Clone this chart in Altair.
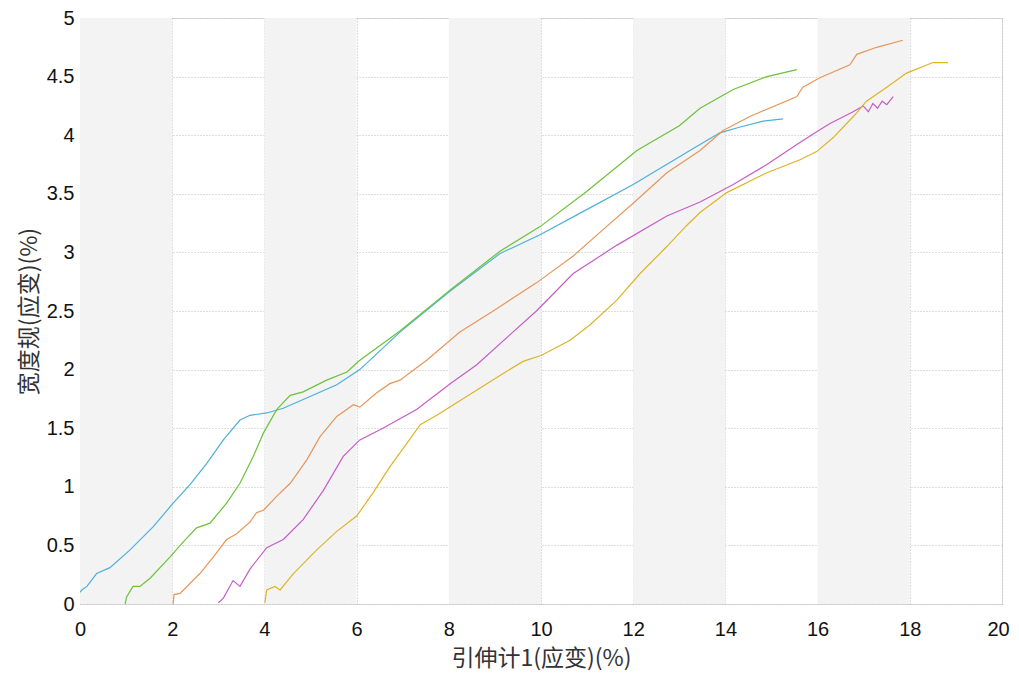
import altair as alt
import pandas as pd

# ---- data ----
blue_x = [0, 0.04, 0.15, 0.36, 0.65, 1.08, 1.59, 2.02, 2.39, 2.75, 3.11, 3.47, 3.69, 4.05, 4.41, 4.99, 5.57, 6.07,
          6.94, 8.03, 9.11, 9.98, 10.92, 12.0, 13.23, 13.45, 13.88, 14.32, 14.82, 15.25]
blue_y = [0.10, 0.12, 0.15, 0.26, 0.31, 0.46, 0.66, 0.86, 1.02, 1.20, 1.40, 1.57, 1.61, 1.63, 1.67, 1.77, 1.87, 2.0,
          2.32, 2.67, 2.99, 3.15, 3.35, 3.58, 3.87, 3.92, 4.02, 4.07, 4.12, 4.14]

green_x = [0.98, 1.01, 1.15, 1.30, 1.52, 1.95, 2.24, 2.53, 2.82, 3.18, 3.47, 3.76, 3.98, 4.27, 4.56, 4.84, 5.35,
           5.79, 6.07, 6.94, 8.03, 9.11, 9.98, 10.99, 12.08, 13.0, 13.45, 14.17, 14.9, 15.55]
green_y = [0, 0.06, 0.15, 0.15, 0.22, 0.40, 0.53, 0.65, 0.69, 0.86, 1.03, 1.26, 1.46, 1.66, 1.78, 1.81, 1.91,
           1.98, 2.08, 2.33, 2.68, 3.01, 3.22, 3.52, 3.87, 4.08, 4.23, 4.39, 4.5, 4.56]

orange_x = [2.02, 2.04, 2.17, 2.6, 2.89, 3.18, 3.40, 3.69, 3.83, 3.98, 4.27, 4.56, 4.92, 5.21, 5.57, 5.93, 6.07,
            6.43, 6.72, 6.94, 7.52, 8.24, 9.04, 9.90, 10.7, 11.42, 12.0, 12.73, 13.45, 13.95, 14.53, 15.55, 15.68,
            16.05, 16.7, 16.85, 17.28, 17.85]
orange_y = [0, 0.08, 0.09, 0.26, 0.40, 0.55, 0.60, 0.70, 0.78, 0.80, 0.92, 1.03, 1.23, 1.43, 1.60, 1.70, 1.68,
            1.80, 1.88, 1.91, 2.08, 2.32, 2.52, 2.74, 2.97, 3.22, 3.42, 3.68, 3.87, 4.04, 4.16, 4.33, 4.41,
            4.49, 4.60, 4.69, 4.75, 4.81]

magenta_x = [3.0, 3.11, 3.32, 3.47, 3.69, 4.05, 4.41, 4.84, 5.28, 5.71, 6.07, 6.57, 7.30, 8.03, 8.6, 9.9, 10.7,
             11.64, 12.73, 13.45, 14.17, 14.9, 15.55, 15.98, 16.27, 16.77, 16.99, 17.1, 17.2, 17.3, 17.4, 17.5, 17.64]
magenta_y = [0.01, 0.05, 0.20, 0.15, 0.30, 0.48, 0.55, 0.72, 0.97, 1.26, 1.40, 1.50, 1.66, 1.88, 2.04, 2.5, 2.82,
             3.06, 3.31, 3.43, 3.58, 3.75, 3.92, 4.03, 4.10, 4.20, 4.25, 4.20, 4.27, 4.23, 4.29, 4.26, 4.33]

yellow_x = [4.01, 4.05, 4.23, 4.34, 4.63, 5.13, 5.57, 6.0, 6.36, 6.72, 7.09, 7.38, 7.74, 8.3, 9.11, 9.61, 10.0,
            10.63, 11.06, 11.64, 12.15, 12.73, 13.16, 13.45, 14.03, 14.9, 15.62, 15.98, 16.34, 16.63, 16.85, 17.06,
            17.5, 17.93, 18.5, 18.83]
yellow_y = [0.01, 0.12, 0.15, 0.12, 0.26, 0.46, 0.62, 0.75, 0.95, 1.17, 1.37, 1.53, 1.61, 1.75, 1.95, 2.07, 2.12,
            2.25, 2.38, 2.59, 2.82, 3.05, 3.23, 3.34, 3.51, 3.68, 3.79, 3.86, 3.98, 4.10, 4.19, 4.29,
            4.41, 4.53, 4.62, 4.62]

series_names = ["blue", "green", "orange", "magenta", "yellow"]
series_colors = ["#4cb0d8", "#6cc23a", "#e8955a", "#c85cc8", "#dcb428"]

band_start = [0, 4, 8, 12, 16]
band_end = [2, 6, 10, 14, 18]

x_ticks = [0, 2, 4, 6, 8, 10, 12, 14, 16, 18, 20]
y_ticks = [0, 0.5, 1, 1.5, 2, 2.5, 3, 3.5, 4, 4.5, 5]

# ---- build tables ----
rows = []
for name, xs, ys in zip(series_names,
                        [blue_x, green_x, orange_x, magenta_x, yellow_x],
                        [blue_y, green_y, orange_y, magenta_y, yellow_y]):
    for i, (a, b) in enumerate(zip(xs, ys)):
        rows.append({"series": name, "x": a, "y": b, "i": i})
df = pd.DataFrame(rows)
bands = pd.DataFrame({"x": band_start, "x2": band_end})

xscale = alt.Scale(domain=[0, 20], nice=False, zero=False)
yscale = alt.Scale(domain=[0, 5], nice=False)

axis_common = dict(
    grid=True, gridColor="#bdbdbd", gridDash=[1, 2], gridWidth=1,
    ticks=False, domain=False, format="~g", labelFlush=False, labelOverlap=False,
    labelFont="Liberation Sans", labelFontSize=20, labelColor="#111111",
    titleFont="Noto Sans CJK SC", titleFontSize=23, titleColor="#333333", titleFontWeight="normal",
)

band_layer = alt.Chart(bands).mark_rect(color="#f3f3f3").encode(
    x=alt.X("x:Q", scale=xscale,
            axis=alt.Axis(values=x_ticks, title="引伸计1(应变)(%)", labelPadding=15, titlePadding=8,
                          labelOffset={"condition": {"test": "datum.value == 20", "value": -4}, "value": 0},
                          **axis_common)),
    x2="x2:Q",
    y=alt.value(0),
    y2=alt.value(586),
)

line_layer = alt.Chart(df).mark_line(strokeWidth=1.2, clip=True).encode(
    x=alt.X("x:Q", scale=xscale),
    y=alt.Y("y:Q", scale=yscale,
            axis=alt.Axis(values=y_ticks, title="宽度规(应变)(%)", labelPadding=6, titlePadding=5, **axis_common)),
    color=alt.Color("series:N", scale=alt.Scale(domain=series_names, range=series_colors), legend=None),
    order="i:Q",
)

chart = alt.layer(band_layer, line_layer).properties(
    width=922, height=586,
    autosize=alt.AutoSizeParams(type="none"),
    padding={"left": 72, "top": 10, "right": 9, "bottom": 69},
).configure_view(stroke="#a8a8a8", strokeWidth=1.5).configure(background="white")

chart.save("out.html", embed_options={"renderer": "svg", "actions": False})
